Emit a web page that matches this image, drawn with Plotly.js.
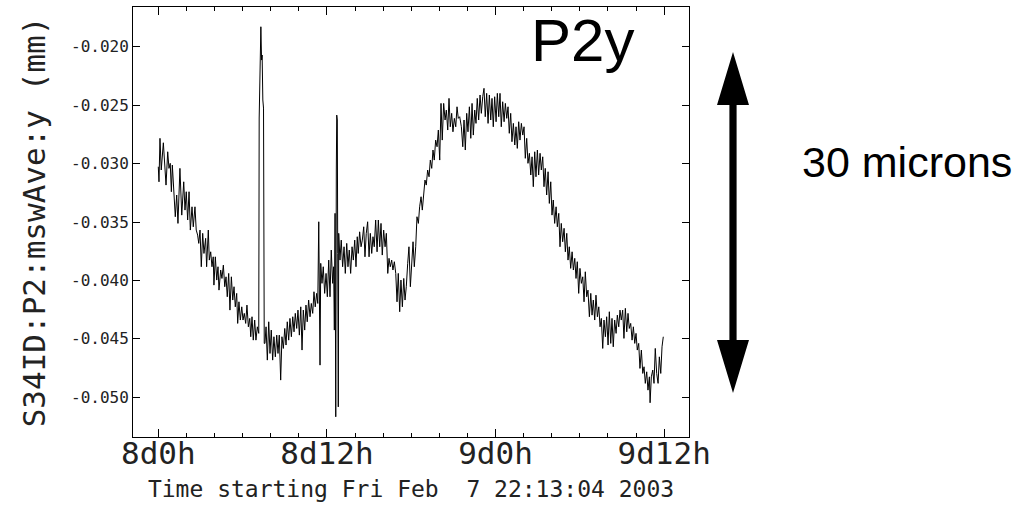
<!DOCTYPE html>
<html>
<head>
<meta charset="utf-8">
<script src="https://cdn.plot.ly/plotly-3.0.1.min.js"></script>
<style>
  html, body { margin: 0; padding: 0; background: #ffffff; }
  #chart { width: 1032px; height: 519px; }
</style>
</head>
<body>
<div id="chart"></div>
<script>
// ---- Data: time (hours after 8d0h) and S34ID:P2:mswAve:y (mm) ----
const segDescent = [
  [0.00,-0.03027],[0.05,-0.03156],[0.12,-0.02784],[0.21,-0.03055],[0.36,-0.02822],[0.48,-0.03055],[0.55,-0.03184],[0.67,-0.02899],[0.76,-0.03041],[0.85,-0.02998],
  [0.93,-0.03241],[1.00,-0.03013],[1.12,-0.03327],[1.21,-0.03455],[1.31,-0.03269],[1.40,-0.03512],[1.54,-0.03041],[1.67,-0.03441],[1.81,-0.03156],[1.90,-0.03398],
  [1.99,-0.03241],[2.09,-0.03483],[2.19,-0.03241],[2.28,-0.03569],[2.40,-0.03370],[2.49,-0.03541],[2.61,-0.03370],[2.70,-0.03569],[2.80,-0.03612],[2.88,-0.03683],
  [2.97,-0.03569],[3.06,-0.03883],[3.16,-0.03597],[3.25,-0.03769],[3.37,-0.03640],[3.44,-0.03883],[3.56,-0.03569],[3.63,-0.03826],[3.73,-0.03755],[3.82,-0.03883],
  [3.91,-0.03798],[3.96,-0.04040],[4.06,-0.03798],[4.16,-0.03997],[4.25,-0.03883],[4.32,-0.04083],[4.44,-0.03911],[4.53,-0.03983],[4.63,-0.03869],[4.73,-0.04054],
  [4.82,-0.03969],[4.91,-0.04140],[5.01,-0.03940],[5.10,-0.04254],[5.20,-0.03969],[5.30,-0.04168],[5.39,-0.04054],[5.48,-0.04226],[5.58,-0.04111],[5.65,-0.04368],
  [5.74,-0.04183],[5.84,-0.04339],[5.94,-0.04226],[6.03,-0.04339],[6.12,-0.04282],[6.22,-0.04368],[6.31,-0.04211],[6.41,-0.04397],[6.51,-0.04325],[6.58,-0.04482],
  [6.67,-0.04311],[6.76,-0.04511],[6.86,-0.04339],[6.95,-0.04511],[7.05,-0.04397],[7.15,-0.04453]
];
const segSpikes = [
  [7.18,-0.02610],[7.30,-0.01829],[7.35,-0.02114],[7.39,-0.02071],[7.44,-0.02456],[7.49,-0.02525],[7.54,-0.04539],
  [7.59,-0.04539],[7.67,-0.04397],[7.76,-0.04682],[7.86,-0.04354],[7.95,-0.04625],[8.04,-0.04425],[8.14,-0.04682],[8.23,-0.04482],[8.33,-0.04654],[8.43,-0.04468],
  [8.52,-0.04625],[8.61,-0.04468],[8.71,-0.04853],[8.80,-0.04482],[8.90,-0.04582],[9.00,-0.04411],[9.09,-0.04553],[9.18,-0.04354],[9.28,-0.04511],[9.37,-0.04325],
  [9.47,-0.04482],[9.57,-0.04311],[9.66,-0.04440],[9.75,-0.04282],[9.85,-0.04411],[9.94,-0.04254],[10.04,-0.04468],[10.14,-0.04226],[10.23,-0.04596],[10.32,-0.04254],
  [10.42,-0.04425],[10.51,-0.04211],[10.60,-0.04354],[10.70,-0.04168],[10.80,-0.04311],[10.89,-0.04197],[10.99,-0.04282],[11.08,-0.04097],[11.17,-0.04226],[11.27,-0.04111],
  [11.35,-0.04197],[11.42,-0.03498],[11.46,-0.03940],[11.51,-0.04725],[11.56,-0.03854],[11.65,-0.04025],[11.74,-0.03883],[11.84,-0.04111],[11.94,-0.03940],[12.03,-0.04140],
  [12.13,-0.03826],[12.22,-0.04140],[12.31,-0.03740],[12.41,-0.04025],[12.48,-0.03883],[12.53,-0.04425],[12.58,-0.03426],[12.63,-0.05167],[12.67,-0.03055],[12.70,-0.02585],
  [12.74,-0.02627],[12.77,-0.03769],[12.81,-0.05082],[12.84,-0.03597],[12.93,-0.03826],[13.02,-0.03655],[13.12,-0.03883],[13.22,-0.03712],[13.31,-0.03940],[13.41,-0.03683],
  [13.50,-0.03883],[13.59,-0.03740],[13.69,-0.03940],[13.79,-0.03712],[13.88,-0.03826],[13.98,-0.03655]
];
const segRise = [
  [14.07,-0.03883],[14.16,-0.03626],[14.23,-0.03769],[14.33,-0.03584],[14.43,-0.03712],[14.52,-0.03655],[14.62,-0.03541],[14.71,-0.03798],[14.80,-0.03597],[14.90,-0.03498],
  [15.00,-0.03798],[15.09,-0.03597],[15.19,-0.03769],[15.28,-0.03626],[15.37,-0.03712],[15.47,-0.03483],[15.57,-0.03755],[15.66,-0.03483],[15.76,-0.03712],[15.85,-0.03512],
  [15.94,-0.03783],[16.04,-0.03569],[16.14,-0.03712],[16.23,-0.03597],[16.33,-0.03940],[16.42,-0.03811],[16.51,-0.03883],[16.61,-0.03826],[16.70,-0.03911],[16.80,-0.03840],
  [16.90,-0.03940],[16.99,-0.04183],[17.08,-0.03940],[17.18,-0.04268],[17.27,-0.03997],[17.37,-0.04226],[17.47,-0.03983],[17.56,-0.04168],[17.65,-0.04054],[17.75,-0.03854],
  [17.84,-0.03712],[17.94,-0.04054],[18.04,-0.03826],[18.13,-0.03669],[18.22,-0.03883],[18.32,-0.03712],[18.41,-0.03455],[18.51,-0.03512],[18.60,-0.03370],[18.70,-0.03284],
  [18.79,-0.03398],[18.89,-0.03255],[18.98,-0.03141],[19.07,-0.03184],[19.17,-0.03055],[19.27,-0.03113],[19.36,-0.02970],[19.46,-0.03041],[19.55,-0.02884],[19.64,-0.02970],
  [19.74,-0.02799],[19.84,-0.02856],[19.93,-0.02713],[20.03,-0.02970],[20.12,-0.02485],[20.21,-0.02799],[20.31,-0.02485],[20.41,-0.02627],[20.50,-0.02542],[20.60,-0.02713],
  [20.69,-0.02442],[20.78,-0.02685],[20.88,-0.02570],[20.97,-0.02728],[21.07,-0.02613],[21.17,-0.02685],[21.26,-0.02514],[21.35,-0.02613],[21.45,-0.02599]
];
const segPeak = [
  [21.57,-0.02685],[21.67,-0.02856],[21.76,-0.02627],[21.85,-0.02884],[21.95,-0.02570],[22.04,-0.02728],[22.14,-0.02514],[22.24,-0.02784],[22.33,-0.02485],[22.42,-0.02756],
  [22.52,-0.02542],[22.61,-0.02656],[22.70,-0.02442],[22.80,-0.02627],[22.90,-0.02413],[22.99,-0.02570],[23.09,-0.02428],[23.18,-0.02356],[23.27,-0.02599],[23.37,-0.02399],
  [23.47,-0.02656],[23.56,-0.02413],[23.66,-0.02627],[23.75,-0.02442],[23.84,-0.02685],[23.94,-0.02428],[24.04,-0.02642],[24.13,-0.02399],[24.23,-0.02599],[24.32,-0.02399],
  [24.41,-0.02685],[24.51,-0.02471],[24.61,-0.02642],[24.70,-0.02485],[24.80,-0.02613],[24.89,-0.02514],[24.98,-0.02741],[25.08,-0.02570],[25.17,-0.02813],[25.27,-0.02656],
  [25.37,-0.02841],[25.46,-0.02685],[25.55,-0.02870],[25.65,-0.02642],[25.74,-0.02799],[25.84,-0.02656],[25.94,-0.02756],[26.03,-0.02685],[26.12,-0.02955],[26.22,-0.02784],
  [26.31,-0.02998],[26.41,-0.02912],[26.51,-0.03098],[26.60,-0.02942],[26.69,-0.03198],[26.79,-0.02899],[26.88,-0.03113],[26.98,-0.02884],[27.07,-0.03098],[27.17,-0.02912],
  [27.26,-0.03055],[27.36,-0.02942],[27.45,-0.03198],[27.54,-0.03041],[27.64,-0.03269],[27.74,-0.03070],[27.83,-0.03341],[27.93,-0.03156],[28.02,-0.03441],[28.11,-0.03312],
  [28.21,-0.03512],[28.31,-0.03370],[28.40,-0.03541],[28.50,-0.03426],[28.59,-0.03712],[28.68,-0.03512],[28.78,-0.03669],[28.88,-0.03554],[28.97,-0.03755],[29.07,-0.03597],
  [29.16,-0.03826],[29.25,-0.03712],[29.35,-0.03897]
];
const segTail = [
  [29.45,-0.03755],[29.54,-0.03911],[29.64,-0.03811],[29.73,-0.03983],[29.82,-0.03840],[29.92,-0.04111],[30.01,-0.03897],[30.11,-0.04025],[30.21,-0.03969],[30.30,-0.04183],
  [30.39,-0.03926],[30.49,-0.04140],[30.58,-0.04083],[30.68,-0.04311],[30.78,-0.04111],[30.87,-0.04297],[30.96,-0.04168],[31.06,-0.04339],[31.15,-0.04126],[31.25,-0.04311],
  [31.35,-0.04226],[31.44,-0.04397],[31.53,-0.04325],[31.63,-0.04582],[31.72,-0.04339],[31.82,-0.04482],[31.91,-0.04311],[32.01,-0.04553],[32.10,-0.04268],[32.20,-0.04539],
  [32.29,-0.04325],[32.38,-0.04568],[32.48,-0.04339],[32.58,-0.04453],[32.67,-0.04297],[32.77,-0.04397],[32.86,-0.04254],[32.95,-0.04339],[33.05,-0.04254],[33.14,-0.04496],
  [33.24,-0.04239],[33.34,-0.04440],[33.43,-0.04282],[33.52,-0.04411],[33.62,-0.04368],[33.72,-0.04511],[33.81,-0.04397],[33.91,-0.04539],[34.00,-0.04453],[34.09,-0.04596],
  [34.19,-0.04539],[34.28,-0.04753],[34.38,-0.04596],[34.48,-0.04796],[34.57,-0.04739],[34.66,-0.04881],[34.76,-0.04782],[34.85,-0.04939],[34.95,-0.04825],[35.00,-0.05047],
  [35.09,-0.04825],[35.19,-0.04767],[35.28,-0.04881],[35.37,-0.04582],[35.47,-0.04796],[35.57,-0.04881],[35.66,-0.04654],[35.76,-0.04796],[35.85,-0.04568],[35.94,-0.04482]
];

const xTickVals = [0, 12, 24, 36];
const xTickText = ['8d0h', '8d12h', '9d0h', '9d12h'];
const yTickVals = [-0.050, -0.045, -0.040, -0.035, -0.030, -0.025, -0.020];
const yTickText = ['-0.050', '-0.045', '-0.040', '-0.035', '-0.030', '-0.025', '-0.020'];

const yTitle = 'S34ID:P2:mswAve:y (mm)';
const xTitle = 'Time starting Fri Feb&nbsp;&nbsp;7 22:13:04 2003';
const labelBig = 'P2y';
const labelScale = '30 microns';

// ---- build trace ----
const all = [].concat(segDescent, segSpikes, segRise, segPeak, segTail);
const hours = all.map(p => p[0]);
const posMm = all.map(p => p[1]);

// ---- layout geometry (pixels) ----
const W = 1032, H = 519;
const plotL = 133, plotR = 689, plotT = 7, plotB = 437;
const pw = plotR - plotL, ph = plotB - plotT;
const px2x = p => (p - plotL) / pw;
const py2y = p => (plotB - p) / ph;

// double-headed arrow (pixel geometry)
const ax = 733, headHalf = 16, shaftHalf = 3.6;
const tipTop = 52, headTop = 105, headBot = 340, tipBot = 393;
const pts = [
  [ax, tipTop], [ax + headHalf, headTop], [ax + shaftHalf, headTop], [ax + shaftHalf, headBot],
  [ax + headHalf, headBot], [ax, tipBot], [ax - headHalf, headBot], [ax - shaftHalf, headBot],
  [ax - shaftHalf, headTop], [ax - headHalf, headTop]
];
const arrowPath = 'M ' + pts.map(p => px2x(p[0]).toFixed(5) + ',' + py2y(p[1]).toFixed(5)).join(' L ') + ' Z';

const mono = 'DejaVu Sans Mono, monospace';
const sans = 'Liberation Sans, Arial, sans-serif';
const txt = '#222';

const trace = {
  x: hours, y: posMm, type: 'scatter', mode: 'lines',
  line: { color: '#000000', width: 1 },
  hoverinfo: 'skip', showlegend: false
};

const layout = {
  width: W, height: H,
  margin: { l: plotL, r: W - plotR, t: plotT, b: H - plotB, pad: 0 },
  paper_bgcolor: '#ffffff', plot_bgcolor: '#ffffff',
  showlegend: false,
  xaxis: {
    range: [-1.8, 37.77],
    tickmode: 'array', tickvals: xTickVals, ticktext: xTickText,
    ticks: 'inside', ticklen: 8, tickwidth: 1, tickcolor: '#000',
    ticklabelstandoff: -11,
    minor: { tickmode: 'linear', tick0: 0, dtick: 2, ticks: 'inside', ticklen: 4, tickwidth: 1, tickcolor: '#000', showgrid: false },
    showline: true, linecolor: '#000', linewidth: 1, mirror: 'ticks',
    showgrid: false, zeroline: false,
    tickfont: { family: mono, size: 31, color: txt },
    title: { text: xTitle, font: { family: mono, size: 23, color: txt }, standoff: 10 }
  },
  yaxis: {
    range: [-0.0534, -0.0166],
    tickmode: 'array', tickvals: yTickVals, ticktext: yTickText,
    ticks: 'inside', ticklen: 7, tickwidth: 1, tickcolor: '#000',
    showline: true, linecolor: '#000', linewidth: 1, mirror: 'ticks',
    showgrid: false, zeroline: false,
    tickfont: { family: mono, size: 16, color: txt },
    title: { text: yTitle, font: { family: mono, size: 31, color: txt }, standoff: 16 }
  },
  annotations: [
    { text: labelBig, xref: 'paper', yref: 'paper', x: px2x(582), y: py2y(41),
      xanchor: 'center', yanchor: 'middle', showarrow: false,
      font: { family: sans, size: 60, color: '#000' } },
    { text: labelScale, xref: 'paper', yref: 'paper', x: px2x(907), y: py2y(162),
      xanchor: 'center', yanchor: 'middle', showarrow: false,
      font: { family: sans, size: 43, color: '#000' } }
  ],
  shapes: [
    { type: 'path', xref: 'paper', yref: 'paper', path: arrowPath,
      fillcolor: '#000', line: { color: '#000', width: 0 } }
  ]
};

Plotly.newPlot('chart', [trace], layout, { staticPlot: true, displayModeBar: false });
</script>
</body>
</html>
